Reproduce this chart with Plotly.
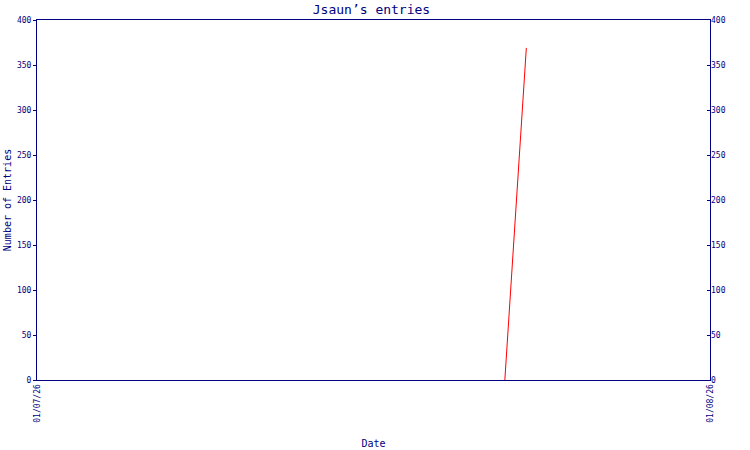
import plotly.graph_objects as go

# entries over the day
dates = ["2026-01-07 16:41", "2026-01-07 17:27"]
entries = [0, 369]

x_range = ["2026-01-07", "2026-01-08"]
x_ticks = ["2026-01-07", "2026-01-08"]
x_labels = ["01/07/26", "01/08/26"]
y_ticks = [0, 50, 100, 150, 200, 250, 300, 350, 400]

navy = "#000080"
mono = "DejaVu Sans Mono, Liberation Mono, monospace"

fig = go.Figure()
fig.add_trace(go.Scatter(x=dates, y=entries, mode="lines",
                         line=dict(color="#ff0000", width=1),
                         showlegend=False))
# same data on the right axis so its labels get drawn
fig.add_trace(go.Scatter(x=dates, y=entries, mode="lines", yaxis="y2",
                         line=dict(color="rgba(0,0,0,0)", width=0),
                         hoverinfo="skip", showlegend=False))

fig.update_layout(
    width=750, height=450,
    margin=dict(l=37, r=40, t=20, b=70, autoexpand=False),
    paper_bgcolor="white", plot_bgcolor="white",
    font=dict(family=mono, color=navy, size=8),
    title=dict(text="Jsaun’s entries", x=0.497, xanchor="center", xref="paper",
               yref="container", y=1 - 9 / 450, yanchor="middle", automargin=False,
               font=dict(size=13, color=navy, family=mono)),
    xaxis=dict(type="date", range=x_range, tickvals=x_ticks, ticktext=x_labels,
               tickangle=-90, showgrid=False, zeroline=False, automargin=False,
               showline=True, linecolor=navy, linewidth=1, mirror=True,
               ticks="", tickfont=dict(size=8, color=navy),
               title=dict(text="Date", standoff=18,
                          font=dict(size=10, color=navy))),
    yaxis=dict(range=[0, 400], tickvals=y_ticks, showgrid=False, zeroline=False,
               showline=True, linecolor=navy, linewidth=1, mirror=True,
               automargin=False,
               ticks="outside", ticklen=3, tickcolor=navy,
               tickfont=dict(size=8, color=navy),
               title=dict(text="Number of Entries", standoff=3,
                          font=dict(size=10, color=navy))),
    yaxis2=dict(range=[0, 400], tickvals=y_ticks, overlaying="y", side="right",
                showgrid=False, zeroline=False, showline=False, automargin=False,
                ticks="inside", ticklen=3, tickcolor=navy,
                tickfont=dict(size=8, color=navy)),
)

# page has a default 8px body margin, drop it so the chart sits at 0,0
fig.write_html("out.html", config={"displayModeBar": False},
               post_script="document.body.style.margin='0';")
